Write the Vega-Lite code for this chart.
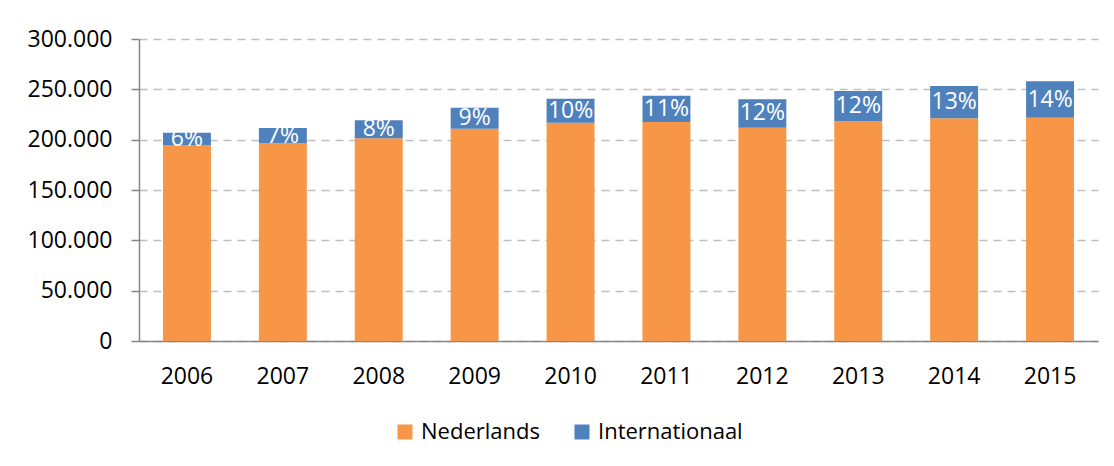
{
  "$schema": "https://vega.github.io/schema/vega-lite/v6.json",
  "width": 959,
  "height": 302,
  "autosize": {"type": "none"},
  "padding": {"left": 139, "top": 39, "right": 16, "bottom": 125},
  "config": {
    "locale": {"number": {"decimal": ",", "thousands": ".", "grouping": [3], "currency": ["€ ", ""]}},
    "font": "Open Sans",
    "view": {"stroke": null}
  },
  "data": {
    "values": [
      {"jaar": "2006", "Nederlands": 194700, "Internationaal": 12200, "aandeel": "6%"},
      {"jaar": "2007", "Nederlands": 196400, "Internationaal": 15200, "aandeel": "7%"},
      {"jaar": "2008", "Nederlands": 201300, "Internationaal": 17900, "aandeel": "8%"},
      {"jaar": "2009", "Nederlands": 210900, "Internationaal": 20900, "aandeel": "9%"},
      {"jaar": "2010", "Nederlands": 216900, "Internationaal": 23800, "aandeel": "10%"},
      {"jaar": "2011", "Nederlands": 217500, "Internationaal": 26200, "aandeel": "11%"},
      {"jaar": "2012", "Nederlands": 211900, "Internationaal": 28200, "aandeel": "12%"},
      {"jaar": "2013", "Nederlands": 218200, "Internationaal": 30100, "aandeel": "12%"},
      {"jaar": "2014", "Nederlands": 221200, "Internationaal": 32100, "aandeel": "13%"},
      {"jaar": "2015", "Nederlands": 221800, "Internationaal": 36200, "aandeel": "14%"}
    ]
  },
  "transform": [
    {"fold": ["Nederlands", "Internationaal"], "as": ["groep", "aantal"]},
    {"calculate": "datum.groep == 'Nederlands' ? 0 : 1", "as": "volgorde"}
  ],
  "layer": [
    {
      "mark": {"type": "bar"},
      "encoding": {
        "x": {
          "field": "jaar", "type": "ordinal",
          "scale": {"paddingInner": 0.5, "paddingOuter": 0.25},
          "axis": {
            "title": null, "labelAngle": 0, "labelFontSize": 23, "labelColor": "#000000",
            "labelPadding": 24, "ticks": false, "domain": true, "domainColor": "#868686", "domainWidth": 1.5
          }
        },
        "y": {
          "field": "aantal", "type": "quantitative", "stack": "zero",
          "scale": {"domain": [0, 300000], "nice": false},
          "axis": {
            "title": null, "values": [0, 50000, 100000, 150000, 200000, 250000, 300000],
            "format": ",.0f", "labelFontSize": 23, "labelColor": "#000000", "labelPadding": 19,
            "domain": true, "domainColor": "#868686", "domainWidth": 1.5,
            "ticks": true, "tickSize": 8, "tickColor": "#868686", "tickWidth": 1.5,
            "grid": true, "gridColor": "#BFBFBF", "gridDash": [8, 6], "gridWidth": 1.5
          }
        },
        "color": {
          "field": "groep", "type": "nominal",
          "scale": {"domain": ["Nederlands", "Internationaal"], "range": ["#F79646", "#4F81BD"]},
          "legend": {
            "title": null, "orient": "none", "legendX": 255, "legendY": 382, "direction": "horizontal",
            "symbolType": "square", "symbolSize": 225, "symbolStrokeWidth": 0,
            "labelFontSize": 22, "labelColor": "#000000", "labelOffset": 5, "columnPadding": 31
          }
        },
        "order": {"field": "volgorde", "type": "quantitative"}
      }
    },
    {
      "transform": [
        {"filter": "datum.groep == 'Internationaal'"},
        {"calculate": "datum.Nederlands + datum.Internationaal / 2", "as": "midden"}
      ],
      "mark": {"type": "text", "color": "#FFFFFF", "fontSize": 23, "baseline": "middle", "align": "center"},
      "encoding": {
        "x": {"field": "jaar", "type": "ordinal"},
        "y": {"field": "midden", "type": "quantitative"},
        "text": {"field": "aandeel", "type": "nominal"}
      }
    }
  ]
}
